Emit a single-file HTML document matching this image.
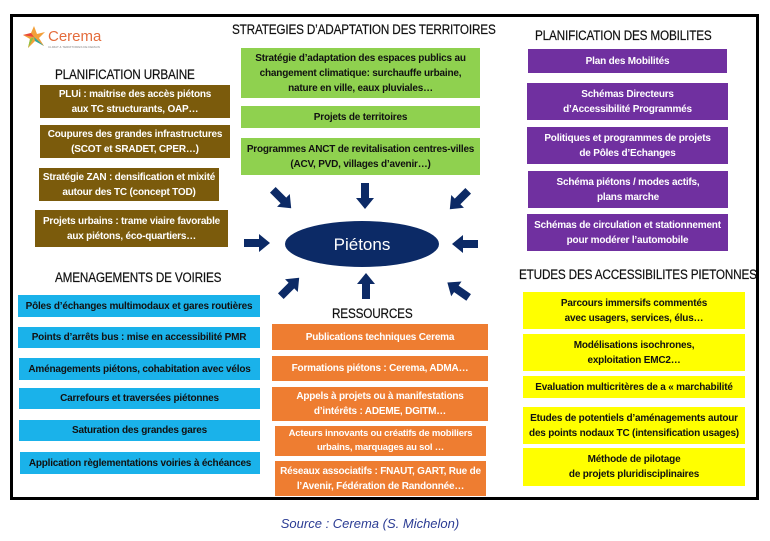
<!DOCTYPE html>
<html><head><meta charset="utf-8"><style>
body{margin:0;width:770px;height:541px;background:#fff;position:relative;overflow:hidden;font-family:"Liberation Sans",sans-serif}
.frame{position:absolute;left:10px;top:14px;width:743px;height:480px;border:3px solid #000}
.b{position:absolute;display:flex;align-items:center;justify-content:center;text-align:center;font-weight:bold;font-size:10px;line-height:15px;letter-spacing:-0.2px}
.br{background:#7b5b0c;color:#fff}
.gr{background:#8fd14f;color:#111}
.pu{background:#7030a0;color:#fff}
.bl{background:#1ab2ea;color:#111}
.or{background:#ee7d31;color:#fff}
.ye{background:#ffff00;color:#111}
.h{position:absolute;font-size:13.5px;color:#111;white-space:nowrap;letter-spacing:-0.2px;transform:scaleX(0.87);transform-origin:0 0;-webkit-text-stroke:0.2px #111}
</style></head><body>
<div class="frame"></div>
<div style="position:absolute;left:22px;top:24px;width:24px;height:26px">
<svg width="24" height="26"><path d="M12 2 L15 10 L23 8 L17 14 L22 22 L13 17 L6 24 L8 15 L1 11 L9 9 Z" fill="#f2a03a"/><path d="M12 13 L22 22 L13 17 Z" fill="#2ca7a0"/><path d="M1 11 L9 9 L12 13 Z" fill="#e9463a"/><path d="M6 24 L8 15 L12 13Z" fill="#8cc23f"/></svg></div>
<div style="position:absolute;left:48px;top:28px;font-size:15px;color:#e46c3c">Cerema</div>
<div style="position:absolute;left:48px;top:45px;font-size:3px;color:#888">CLIMAT &amp; TERRITOIRES DE DEMAIN</div>

<div class="h" style="left:55px;top:67px">PLANIFICATION URBAINE</div>
<div class="b br" style="left:40px;top:85px;width:190px;height:33px">PLUi : maitrise des accès piétons<br>aux TC structurants, OAP…</div>
<div class="b br" style="left:40px;top:125px;width:190px;height:33px">Coupures des grandes infrastructures<br>(SCOT et SRADET, CPER…)</div>
<div class="b br" style="left:39px;top:168px;width:180px;height:33px">Stratégie ZAN : densification et mixité<br>autour des TC (concept TOD)</div>
<div class="b br" style="left:35px;top:210px;width:193px;height:37px">Projets urbains : trame viaire favorable<br>aux piétons, éco-quartiers…</div>

<div class="h" style="left:232px;top:22px">STRATEGIES D’ADAPTATION DES TERRITOIRES</div>
<div class="b gr" style="left:241px;top:48px;width:239px;height:50px">Stratégie d’adaptation des espaces publics au<br>changement climatique: surchauffe urbaine,<br>nature en ville, eaux pluviales…</div>
<div class="b gr" style="left:241px;top:106px;width:239px;height:22px">Projets de territoires</div>
<div class="b gr" style="left:241px;top:138px;width:239px;height:37px">Programmes ANCT de revitalisation centres-villes<br>(ACV, PVD, villages d’avenir…)</div>

<div class="h" style="left:535px;top:28px">PLANIFICATION DES MOBILITES</div>
<div class="b pu" style="left:528px;top:49px;width:199px;height:24px">Plan des Mobilités</div>
<div class="b pu" style="left:527px;top:83px;width:201px;height:37px">Schémas Directeurs<br>d’Accessibilité Programmés</div>
<div class="b pu" style="left:527px;top:127px;width:201px;height:37px">Politiques et programmes de projets<br>de Pôles d’Echanges</div>
<div class="b pu" style="left:528px;top:171px;width:200px;height:37px">Schéma piétons / modes actifs,<br>plans marche</div>
<div class="b pu" style="left:527px;top:214px;width:201px;height:37px">Schémas de circulation et stationnement<br>pour modérer l’automobile</div>

<div class="h" style="left:55px;top:270px">AMENAGEMENTS DE VOIRIES</div>
<div class="b bl" style="left:18px;top:295px;width:242px;height:22px">Pôles d’échanges multimodaux et gares routières</div>
<div class="b bl" style="left:18px;top:327px;width:242px;height:21px">Points d’arrêts bus : mise en accessibilité PMR</div>
<div class="b bl" style="left:19px;top:358px;width:241px;height:22px">Aménagements piétons, cohabitation avec vélos</div>
<div class="b bl" style="left:19px;top:388px;width:241px;height:21px">Carrefours et traversées piétonnes</div>
<div class="b bl" style="left:19px;top:420px;width:241px;height:21px">Saturation des grandes gares</div>
<div class="b bl" style="left:20px;top:452px;width:240px;height:22px">Application règlementations voiries à échéances</div>

<div class="h" style="left:332px;top:306px">RESSOURCES</div>
<div class="b or" style="left:272px;top:324px;width:216px;height:26px">Publications techniques Cerema</div>
<div class="b or" style="left:272px;top:356px;width:216px;height:25px">Formations piétons : Cerema, ADMA…</div>
<div class="b or" style="left:272px;top:387px;width:216px;height:34px">Appels à projets ou à manifestations<br>d’intérêts : ADEME, DGITM…</div>
<div class="b or" style="left:275px;top:426px;width:211px;height:30px;font-size:9.5px;line-height:14px">Acteurs innovants ou créatifs de mobiliers<br>urbains, marquages au sol …</div>
<div class="b or" style="left:275px;top:461px;width:211px;height:35px">Réseaux associatifs : FNAUT, GART, Rue de<br>l’Avenir, Fédération de Randonnée…</div>

<div class="h" style="left:519px;top:267px">ETUDES DES ACCESSIBILITES PIETONNES</div>
<div class="b ye" style="left:523px;top:292px;width:222px;height:37px">Parcours immersifs commentés<br>avec usagers, services, élus…</div>
<div class="b ye" style="left:523px;top:334px;width:222px;height:37px">Modélisations isochrones,<br>exploitation EMC2…</div>
<div class="b ye" style="left:523px;top:376px;width:222px;height:22px">Evaluation multicritères de a « marchabilité</div>
<div class="b ye" style="left:523px;top:407px;width:222px;height:37px">Etudes de potentiels d’aménagements autour<br>des points nodaux TC (intensification usages)</div>
<div class="b ye" style="left:523px;top:448px;width:222px;height:38px">Méthode de pilotage<br>de projets pluridisciplinaires</div>

<svg style="position:absolute;left:0;top:0" width="770" height="541">
<defs><path id="ar" d="M-13,-4 L2,-4 L2,-9 L13,0 L2,9 L2,4 L-13,4 Z" fill="#0c2a66"/></defs>
<ellipse cx="362" cy="244" rx="77" ry="23" fill="#0c2a66"/>
<text x="362" y="250" text-anchor="middle" font-family="Liberation Sans,sans-serif" font-size="17" fill="#fff">Piétons</text>
<use href="#ar" transform="translate(282,199) rotate(45)"/>
<use href="#ar" transform="translate(365,196) rotate(90)"/>
<use href="#ar" transform="translate(459,200) rotate(135)"/>
<use href="#ar" transform="translate(257,243) rotate(0)"/>
<use href="#ar" transform="translate(465,244) rotate(180)"/>
<use href="#ar" transform="translate(290,287) rotate(-45)"/>
<use href="#ar" transform="translate(366,286) rotate(-90)"/>
<use href="#ar" transform="translate(458,290) rotate(-145)"/>
</svg>
<div style="position:absolute;left:0;width:740px;top:516px;text-align:center;font-style:italic;font-size:13px;color:#2b3c94">Source : Cerema (S. Michelon)</div>
</body></html>
